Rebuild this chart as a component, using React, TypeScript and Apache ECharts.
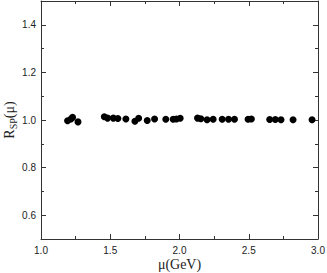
import React, { useEffect, useRef } from "react";
import * as echarts from "echarts";

const muValues = [1.192, 1.216, 1.228, 1.267, 1.457, 1.481, 1.522, 1.555, 1.613, 1.678, 1.705, 1.767, 1.82, 1.901, 1.954, 1.978, 2.005, 2.13, 2.154, 2.199, 2.243, 2.308, 2.354, 2.397, 2.495, 2.519, 2.651, 2.692, 2.733, 2.82, 2.957];
const rspValues = [0.997, 1.004, 1.011, 0.992, 1.014, 1.008, 1.008, 1.006, 1.004, 0.995, 1.007, 0.998, 1.004, 1.003, 1.003, 1.004, 1.007, 1.008, 1.005, 1.001, 1.003, 1.003, 1.003, 1.003, 1.003, 1.004, 1.002, 1.002, 1.001, 1.001, 1.001];
const yMajorTicks = [0.6, 0.8, 1.0, 1.2, 1.4];
const yMinorTicks = [0.5, 0.7, 0.9, 1.1, 1.3, 1.5];

export default function App() {
  const ref = useRef<HTMLDivElement>(null);
  useEffect(() => {
    const chart = echarts.init(ref.current!, null, { renderer: "svg" });
    const lineStyle = { color: "#333", width: 1 };
    const baseX = {
      type: "value",
      min: 1.0,
      max: 3.0,
      interval: 0.5,
      splitLine: { show: false },
      axisLine: { show: true, onZero: false, lineStyle },
      axisTick: { show: true, inside: true, length: 5, lineStyle },
      minorTick: { show: true, splitNumber: 2, length: 3, lineStyle },
    };
    const baseY = {
      type: "value",
      min: 0.5,
      max: 1.5,
      interval: 0.1,
      splitLine: { show: false },
      minorTick: { show: false },
      axisLine: { show: true, onZero: false, lineStyle },
    };
    const labelFont = { fontFamily: "Liberation Sans, Arial, sans-serif", fontSize: 10, color: "#222" };
    const serif = "Liberation Serif, Times New Roman, serif";
    chart.setOption({
      animation: false,
      grid: { left: 41, right: 9, top: 1, bottom: 34, containLabel: false, outerBoundsMode: "none" },
      xAxis: [
        {
          ...baseX,
          position: "bottom",
          axisLabel: { ...labelFont, margin: 6, formatter: (v: number) => v.toFixed(1) },
          name: "μ(GeV)",
          nameLocation: "middle",
          nameGap: 18,
          nameMoveOverlap: false,
          nameTextStyle: { fontFamily: serif, fontSize: 14, color: "#222" },
        },
        { ...baseX, position: "top", axisLabel: { show: false } },
      ],
      yAxis: [
        {
          ...baseY,
          position: "left",
          axisTick: { show: true, inside: true, length: 5, lineStyle, customValues: yMajorTicks },
          axisLabel: { ...labelFont, margin: 5, customValues: yMajorTicks, formatter: (v: number) => v.toFixed(1) },
          name: "{a|R}{b|SP}{a|(μ)}",
          nameLocation: "middle",
          nameGap: 24,
          nameMoveOverlap: false,
          nameRotate: 90,
          nameTextStyle: {
            rich: {
              a: { fontFamily: serif, fontSize: 14, color: "#222", lineHeight: 16 },
              b: { fontFamily: serif, fontSize: 10, color: "#222", padding: [8, 0, 0, 0], lineHeight: 16 },
            },
          },
        },
        {
          ...baseY,
          position: "left",
          axisLine: { show: false },
          axisTick: { show: true, inside: true, length: 3, lineStyle, customValues: yMinorTicks },
          axisLabel: { show: false },
        },
        {
          ...baseY,
          position: "right",
          axisTick: { show: true, inside: true, length: 5, lineStyle, customValues: yMajorTicks },
          axisLabel: { show: false },
        },
        {
          ...baseY,
          position: "right",
          axisLine: { show: false },
          axisTick: { show: true, inside: true, length: 3, lineStyle, customValues: yMinorTicks },
          axisLabel: { show: false },
        },
      ],
      series: [
        {
          type: "scatter",
          symbol: "circle",
          symbolSize: 7,
          itemStyle: { color: "#000", opacity: 1 },
          data: muValues.map((m, i) => [m, rspValues[i]]),
        },
      ],
    });
    return () => chart.dispose();
  }, []);
  return <div ref={ref} style={{ width: 327, height: 273, position: "absolute", left: 0, top: 0 }} />;
}
